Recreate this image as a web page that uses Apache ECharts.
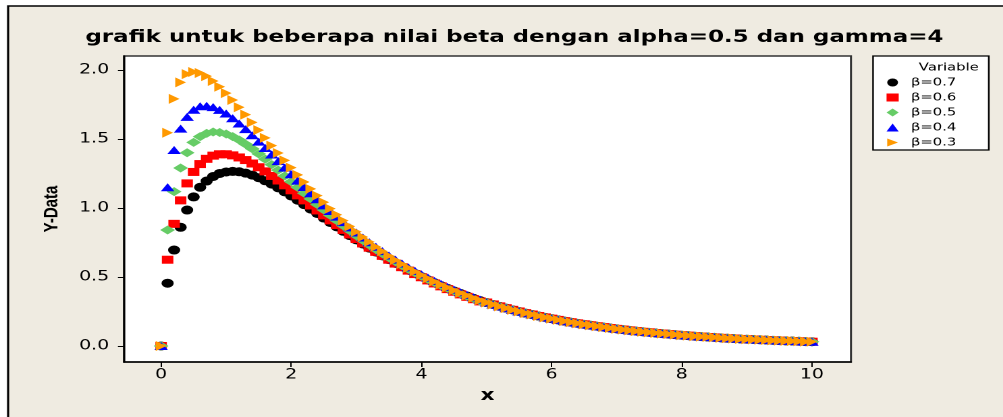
<!DOCTYPE html>
<html>
<head>
<meta charset="utf-8">
<script src="https://cdn.jsdelivr.net/npm/echarts@6/dist/echarts.min.js"></script>
<style>
html,body{margin:0;padding:0;background:#fff;overflow:hidden}
#wrap{width:1003px;height:417px;overflow:hidden}
#c{width:743px;height:417px;transform:scaleX(1.35);transform-origin:0 0}
</style>
</head>
<body>
<div id="wrap"><div id="c"></div></div>
<script>
// x positions (0 to 10, step 0.1)
const xValues = [
  0.0,0.1,0.2,0.3,0.4,0.5,0.6,0.7,0.8,0.9,
  1.0,1.1,1.2,1.3,1.4,1.5,1.6,1.7,1.8,1.9,
  2.0,2.1,2.2,2.3,2.4,2.5,2.6,2.7,2.8,2.9,
  3.0,3.1,3.2,3.3,3.4,3.5,3.6,3.7,3.8,3.9,
  4.0,4.1,4.2,4.3,4.4,4.5,4.6,4.7,4.8,4.9,
  5.0,5.1,5.2,5.3,5.4,5.5,5.6,5.7,5.8,5.9,
  6.0,6.1,6.2,6.3,6.4,6.5,6.6,6.7,6.8,6.9,
  7.0,7.1,7.2,7.3,7.4,7.5,7.6,7.7,7.8,7.9,
  8.0,8.1,8.2,8.3,8.4,8.5,8.6,8.7,8.8,8.9,
  9.0,9.1,9.2,9.3,9.4,9.5,9.6,9.7,9.8,9.9,
  10.0
];

// x = 0.0 .. 4.9 for each beta
const yBeta07 = [
  0,0.455,0.695,0.860,0.985,1.080,1.150,1.195,1.228,1.250,
  1.261,1.265,1.262,1.252,1.238,1.219,1.197,1.173,1.146,1.117,
  1.087,1.056,1.024,0.992,0.960,0.927,0.895,0.863,0.831,0.800,
  0.769,0.739,0.709,0.681,0.653,0.626,0.599,0.574,0.549,0.525,
  0.502,0.479,0.458,0.437,0.417,0.398,0.380,0.362,0.345,0.329
];
const yBeta06 = [
  0,0.625,0.885,1.055,1.178,1.261,1.318,1.356,1.379,1.389,
  1.389,1.381,1.366,1.347,1.322,1.295,1.265,1.232,1.199,1.164,
  1.128,1.091,1.055,1.018,0.982,0.946,0.910,0.876,0.841,0.808,
  0.775,0.743,0.712,0.682,0.653,0.625,0.597,0.571,0.546,0.521,
  0.498,0.475,0.453,0.432,0.412,0.393,0.374,0.356,0.339,0.323
];
const yBeta05 = [
  0,0.840,1.118,1.290,1.400,1.475,1.517,1.540,1.550,1.547,
  1.536,1.517,1.492,1.462,1.429,1.392,1.354,1.314,1.274,1.232,
  1.190,1.149,1.107,1.066,1.025,0.986,0.946,0.908,0.871,0.835,
  0.799,0.765,0.732,0.700,0.669,0.640,0.611,0.583,0.556,0.531,
  0.506,0.483,0.460,0.438,0.418,0.398,0.379,0.361,0.343,0.326
];
const yBeta04 = [
  0,1.150,1.420,1.575,1.660,1.712,1.737,1.740,1.731,1.711,
  1.684,1.650,1.612,1.571,1.527,1.481,1.434,1.387,1.339,1.292,
  1.244,1.198,1.152,1.107,1.063,1.019,0.978,0.937,0.897,0.859,
  0.822,0.786,0.752,0.719,0.687,0.656,0.626,0.598,0.570,0.544,
  0.519,0.495,0.472,0.450,0.428,0.408,0.389,0.370,0.353,0.336
];
const yBeta03 = [
  0,1.545,1.790,1.910,1.970,1.985,1.978,1.955,1.920,1.878,
  1.832,1.782,1.730,1.676,1.620,1.564,1.508,1.452,1.398,1.345,
  1.292,1.240,1.188,1.138,1.089,1.041,0.995,0.951,0.908,0.867,
  0.828,0.790,0.754,0.719,0.686,0.654,0.623,0.594,0.566,0.540,
  0.514,0.490,0.467,0.445,0.424,0.403,0.384,0.366,0.348,0.331
];
// x = 5.0 .. 10.0 : all five series overlap here
const yTailShared = [
  0.315,0.301,0.287,0.274,0.262,0.250,0.238,0.228,0.217,0.207,
  0.198,0.189,0.180,0.172,0.164,0.157,0.150,0.143,0.137,0.130,
  0.124,0.119,0.113,0.108,0.103,0.099,0.094,0.090,0.086,0.082,
  0.078,0.075,0.071,0.068,0.065,0.062,0.059,0.056,0.054,0.051,
  0.049,0.047,0.045,0.043,0.041,0.039,0.037,0.036,0.034,0.032,
  0.031
];

const seriesNames = ['β=0.7','β=0.6','β=0.5','β=0.4','β=0.3'];
const xTicks = [0,2,4,6,8,10];
const yTicks = [0,0.5,1.0,1.5,2.0];

const heads = [yBeta07, yBeta06, yBeta05, yBeta04, yBeta03];
const colors = ['#000000','#FF0000','#66CC66','#0000FF','#FF9900'];
const symbols = ['circle','rect','diamond','triangle','path://M0,0L10,5L0,10Z'];
const sizes = [[9,9],[8.5,8],[11,9],[10,8],[8,10]];

const series = heads.map((h, i) => {
  const ys = h.concat(yTailShared);
  return {
    type: 'scatter',
    name: seriesNames[i],
    data: xValues.map((x, j) => [x, ys[j]]),
    symbol: symbols[i],
    symbolSize: sizes[i],
    itemStyle: { color: colors[i], opacity: 1 },
    emphasis: { disabled: true },
    silent: true
  };
});

const chart = echarts.init(document.getElementById('c'), null, { renderer: 'canvas', devicePixelRatio: 2 });
chart.setOption({
  animation: false,
  backgroundColor: 'transparent',
  graphic: [{
    type: 'rect', z: -10,
    shape: { x: 6, y: 6, width: 900, height: 500 },
    style: { fill: '#EFEBE1', stroke: '#000', lineWidth: 1.6 }
  }],
  title: [{
    text: 'grafik untuk beberapa nilai beta dengan alpha=0.5 dan gamma=4',
    left: 376, top: 24, textAlign: 'center',
    textStyle: { fontFamily: 'DejaVu Sans', fontWeight: 'bold', fontSize: 17, color: '#000' }
  }, {
    text: 'Variable',
    left: 697.8, top: 57, textAlign: 'center',
    textStyle: { fontFamily: 'DejaVu Sans', fontWeight: 'normal', fontSize: 11, color: '#000' }
  }],
  legend: {
    orient: 'vertical',
    left: 646.7, top: 56,
    itemWidth: 9, itemHeight: 8, itemGap: 4,
    padding: [21, 24, 2, 10],
    backgroundColor: '#fff', borderColor: '#000', borderWidth: 1.2,
    selectedMode: false,
    textStyle: { fontFamily: 'DejaVu Sans', fontSize: 11, color: '#000', padding: [0,0,0,4] },
    data: seriesNames
  },
  grid: {
    left: 91.85, top: 56, width: 538.5, height: 306,
    show: true, backgroundColor: '#fff', borderColor: '#333', borderWidth: 1.5
  },
  xAxis: {
    type: 'value', min: -0.57, max: 10.6,
    axisLine: { show: true, onZero: false, lineStyle: { color: '#000', width: 1.5 } },
    axisTick: { show: true, customValues: xTicks, length: 5, lineStyle: { color: '#000', width: 1 } },
    axisLabel: { customValues: xTicks, fontFamily: 'DejaVu Sans', fontSize: 14, color: '#000', margin: 6 },
    splitLine: { show: false },
    name: 'x', nameLocation: 'middle', nameGap: 26,
    nameTextStyle: { fontFamily: 'DejaVu Sans', fontWeight: 'bold', fontSize: 16, color: '#000' }
  },
  yAxis: {
    type: 'value', min: -0.116, max: 2.101,
    axisLine: { show: true, onZero: false, lineStyle: { color: '#000', width: 1.5 } },
    axisTick: { show: true, customValues: yTicks, length: 4.5, lineStyle: { color: '#000', width: 1 } },
    axisLabel: { customValues: yTicks, fontFamily: 'DejaVu Sans', fontSize: 14, color: '#000', margin: 11,
      formatter: v => Number(v).toFixed(1) },
    splitLine: { show: false },
    name: 'Y-Data', nameLocation: 'middle', nameGap: 46,
    nameTextStyle: { fontFamily: 'Liberation Sans', fontWeight: 'bold', fontSize: 15, color: '#000' }
  },
  series: series
});
</script>
</body>
</html>
